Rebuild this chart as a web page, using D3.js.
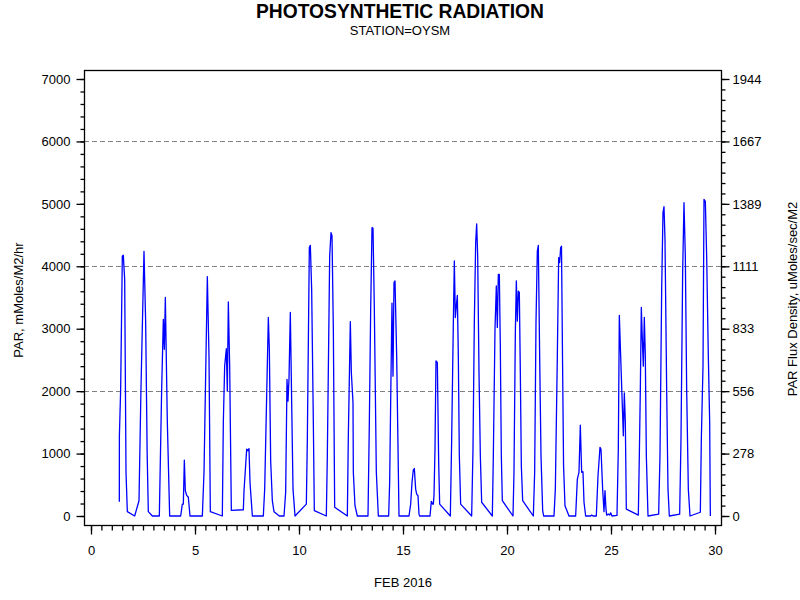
<!DOCTYPE html>
<html lang="en">
<head>
<meta charset="utf-8">
<title>Photosynthetic Radiation</title>
<script src="https://cdn.jsdelivr.net/npm/d3@7"></script>
<style>
  body { margin: 0; background: #fff; }
  svg text { font-family: "Liberation Sans", Arial, sans-serif; fill: #000; }
</style>
</head>
<body>
<script>
// hourly PAR readings (day of month, mMoles/M2/hr)
var days = [
  1.362, 1.365, 1.426, 1.506, 1.554, 1.619, 1.683, 1.747, 2.099, 2.308, 2.400, 2.548, 2.628, 2.700, 2.756, 2.949,
  3.285, 3.397, 3.478, 3.526, 3.574, 3.670, 3.782,
  4.311, 4.391, 4.439, 4.487, 4.535, 4.600, 4.679, 4.760,
  5.353, 5.433, 5.593, 5.673, 5.737,
  6.314, 6.362, 6.426, 6.506, 6.554, 6.603, 6.667, 6.747,
  7.324, 7.356, 7.484, 7.548, 7.596, 7.644, 7.757,
  8.285, 8.350, 8.446, 8.526, 8.574, 8.638, 8.718, 8.798, 9.055,
  9.279, 9.359, 9.423, 9.471, 9.519, 9.583, 9.648, 9.712, 9.808,
  10.353, 10.401, 10.497, 10.545, 10.609, 10.689, 10.737,
  11.314, 11.362, 11.475, 11.539, 11.587, 11.651, 11.715,
  12.324, 12.372, 12.468, 12.516, 12.596, 12.612, 12.692, 12.805,
  13.317, 13.382, 13.446, 13.510, 13.558, 13.622, 13.718, 13.814,
  14.311, 14.359, 14.423, 14.471, 14.519, 14.567, 14.616, 14.696, 14.808,
  15.288, 15.369, 15.433, 15.497, 15.545, 15.609, 15.657, 15.721, 15.769, 15.801,
  16.298, 16.362, 16.426, 16.458, 16.490, 16.538, 16.586, 16.651, 16.715, 16.763,
  17.276, 17.340, 17.420, 17.468, 17.516, 17.564, 17.612, 17.660, 17.708, 17.772,
  18.301, 18.365, 18.429, 18.494, 18.542, 18.590, 18.654, 18.718, 18.782,
  19.295, 19.343, 19.423, 19.487, 19.535, 19.583, 19.631, 19.679, 19.727, 19.776,
  20.288, 20.336, 20.401, 20.449, 20.497, 20.545, 20.593, 20.641, 20.689, 20.753,
  21.266, 21.330, 21.394, 21.458, 21.506, 21.570, 21.635, 21.715, 21.763,
  22.260, 22.324, 22.420, 22.484, 22.532, 22.580, 22.620, 22.670, 22.720, 22.788, 22.980,
  23.301, 23.381, 23.461, 23.525, 23.589, 23.653, 23.702, 23.782,
  24.022, 24.070, 24.134, 24.294, 24.375, 24.471, 24.519, 24.599, 24.663, 24.711, 24.759, 24.791, 24.871, 24.936, 24.984, 25.048,
  25.288, 25.352, 25.400, 25.464, 25.528, 25.593, 25.641, 25.689, 25.737,
  26.314, 26.362, 26.410, 26.458, 26.506, 26.554, 26.602, 26.650, 26.699, 26.779,
  27.291, 27.355, 27.436, 27.500, 27.548, 27.596, 27.676, 27.740, 27.804,
  28.301, 28.365, 28.445, 28.509, 28.573, 28.638, 28.718, 28.798,
  29.295, 29.343, 29.423, 29.471, 29.535, 29.599, 29.679, 29.744, 29.776
];
var par = [
  230, 1285, 2030, 4165, 4176, 3790, 700, 70, 0, 245, 2000, 4240, 3100, 1000, 70, 0,
  0, 2030, 3150, 2670, 3500, 1500, 0,
  0, 190, 190, 895, 405, 330, 300, 0,
  0, 700, 3835, 2560, 70,
  0, 1500, 2400, 2680, 2000, 3430, 2400, 90,
  100, 400, 1070, 1045, 1080, 540, 0,
  0, 430, 1925, 3180, 2670, 885, 245, 70, 0,
  0, 380, 2190, 1840, 2190, 3260, 1820, 430, 0,
  190, 1230, 4300, 4335, 3630, 1500, 85,
  0, 965, 4165, 4540, 4485, 2990, 140,
  0, 1285, 3115, 2300, 1820, 700, 165, 0,
  0, 1500, 3310, 4620, 4610, 3310, 700, 0,
  0, 540, 2240, 3410, 2240, 3740, 3765, 2565, 0,
  0, 190, 540, 740, 760, 430, 350, 325, 30, 0,
  0, 235, 190, 190, 325, 1070, 2485, 2460, 860, 190,
  0, 1230, 3100, 4085, 3180, 3365, 3535, 2565, 965, 190,
  0, 1070, 3100, 4380, 4680, 4165, 2300, 965, 220,
  0, 965, 2990, 3685, 3020, 3870, 3870, 2720, 965, 245,
  0, 700, 2940, 3765, 3120, 3600, 3580, 2300, 805, 245,
  0, 700, 3100, 4245, 4335, 2565, 965, 85, 0,
  0, 430, 2565, 4140, 4060, 4300, 4320, 2500, 800, 165, 0,
  0, 590, 700, 1455, 700, 710, 220, 0,
  0, 15, 0, 0, 645, 1100, 1070, 430, 70, 405, 110, 15, 30, 15, 50, 0,
  10, 1070, 3215, 2565, 1925, 1285, 1970, 1500, 110,
  15, 965, 2030, 3340, 2830, 2400, 3180, 2565, 965, 0,
  30, 965, 3630, 4860, 4955, 4430, 2030, 430, 0,
  30, 1230, 3900, 5020, 4165, 2030, 430, 0,
  60, 1230, 2400, 5070, 5040, 4165, 2565, 1500, 0
];

var xTicks = [0, 5, 10, 15, 20, 25, 30];
var yTicks = [0, 1000, 2000, 3000, 4000, 5000, 6000, 7000];
var gridValues = [2000, 4000, 6000];
var fluxFactor = 3.6; // mMoles/M2/hr -> uMoles/sec/M2

var width = 800, height = 600;
var frame = {left: 84, right: 721, top: 70, bottom: 525};

var svg = d3.select("body").append("svg")
    .attr("width", width)
    .attr("height", height);

var xScale = d3.scaleLinear().domain([0, 30]).range([91, 715]);
var yScale = d3.scaleLinear().domain([0, 7000]).range([516, 79]);
var yScaleR = d3.scaleLinear().domain([0, 7000 / fluxFactor]).range([516, 79]);

// titles
svg.append("text")
    .attr("x", 400).attr("y", 18)
    .attr("text-anchor", "middle")
    .attr("textLength", 288)
    .attr("lengthAdjust", "spacingAndGlyphs")
    .style("font-size", "20px")
    .style("font-weight", "bold")
    .text("PHOTOSYNTHETIC RADIATION");

svg.append("text")
    .attr("x", 400).attr("y", 35)
    .attr("text-anchor", "middle")
    .style("font-size", "13px")
    .text("STATION=OYSM");

// reference lines
svg.selectAll(".grid")
    .data(gridValues)
    .enter()
    .append("line")
    .attr("class", "grid")
    .attr("x1", frame.left).attr("x2", frame.right)
    .attr("y1", function(d) { return Math.round(yScale(d)) + 0.5; })
    .attr("y2", function(d) { return Math.round(yScale(d)) + 0.5; })
    .attr("stroke", "#808080")
    .attr("stroke-dasharray", "5,3");

// the data line
var pts = d3.zip(days, par);
var line = d3.line()
    .x(function(d) { return xScale(d[0]); })
    .y(function(d) { return yScale(d[1]); });

svg.append("path")
    .datum(pts)
    .attr("d", line)
    .attr("fill", "none")
    .attr("stroke", "#0000ff")
    .attr("stroke-width", 1.3)
    .attr("stroke-linejoin", "round");

// frame
svg.append("rect")
    .attr("x", frame.left + 0.5).attr("y", frame.top + 0.5)
    .attr("width", frame.right - frame.left)
    .attr("height", frame.bottom - frame.top)
    .attr("fill", "none")
    .attr("stroke", "#000")
    .attr("stroke-width", 1.3);

function styleAxis(g) {
    g.select(".domain").remove();
    g.selectAll(".tick line").attr("stroke", "#000").attr("stroke-width", 1.3);
    g.selectAll(".tick text").style("font-size", "13px").attr("fill", "#000");
}

// X axis: minor ticks every half day, major every 5 days
svg.append("g")
    .attr("transform", "translate(0," + (frame.bottom + 0.5) + ")")
    .call(d3.axisBottom(xScale).tickValues(d3.range(0, 30.01, 0.5)).tickSize(5).tickFormat(""))
    .call(styleAxis);
svg.append("g")
    .attr("transform", "translate(0," + (frame.bottom + 0.5) + ")")
    .call(d3.axisBottom(xScale).tickValues(xTicks).tickSize(9).tickPadding(11))
    .call(styleAxis);

// left axis
svg.append("g")
    .attr("transform", "translate(" + (frame.left + 0.5) + ",0)")
    .call(d3.axisLeft(yScale).tickValues(d3.range(0, 7001, 200)).tickSize(4).tickFormat(""))
    .call(styleAxis);
svg.append("g")
    .attr("transform", "translate(" + (frame.left + 0.5) + ",0)")
    .call(d3.axisLeft(yScale).tickValues(yTicks).tickSize(8).tickPadding(6).tickFormat(d3.format("d")))
    .call(styleAxis);

// right axis, same positions converted to flux density
var rightMajor = yTicks.map(function(v) { return v / fluxFactor; });
var rightMinor = d3.range(0, 7001, 1000 / 6).map(function(v) { return v / fluxFactor; });
svg.append("g")
    .attr("transform", "translate(" + (frame.right + 0.5) + ",0)")
    .call(d3.axisRight(yScaleR).tickValues(rightMinor).tickSize(4).tickFormat(""))
    .call(styleAxis);
svg.append("g")
    .attr("transform", "translate(" + (frame.right + 0.5) + ",0)")
    .call(d3.axisRight(yScaleR).tickValues(rightMajor).tickSize(8).tickPadding(3).tickFormat(d3.format(".0f")))
    .call(styleAxis);

// axis labels
svg.append("text")
    .attr("x", 403).attr("y", 587)
    .attr("text-anchor", "middle")
    .style("font-size", "13px")
    .text("FEB 2016");

svg.append("text")
    .attr("transform", "translate(23,300) rotate(-90)")
    .attr("text-anchor", "middle")
    .style("font-size", "13px")
    .text("PAR, mMoles/M2/hr");

svg.append("text")
    .attr("transform", "translate(797,299) rotate(-90)")
    .attr("text-anchor", "middle")
    .style("font-size", "13px")
    .text("PAR Flux Density, uMoles/sec/M2");
</script>
</body>
</html>
